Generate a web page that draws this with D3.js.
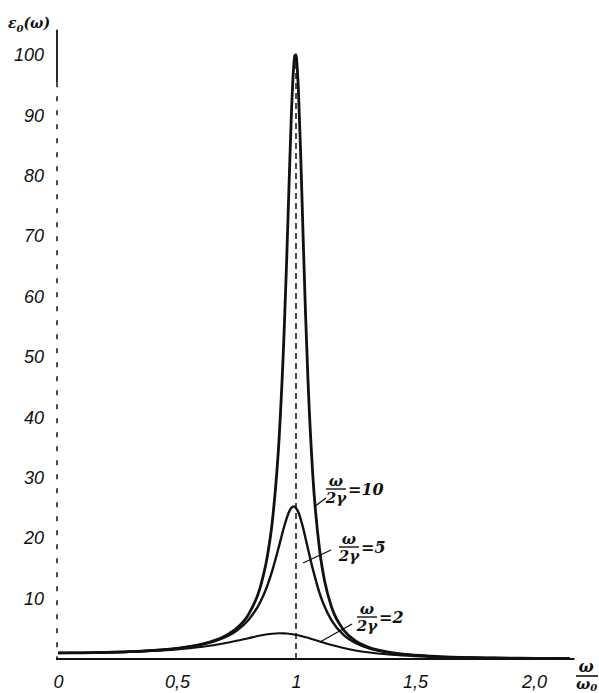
<!DOCTYPE html>
<html>
<head>
<meta charset="utf-8">
<script src="https://cdn.jsdelivr.net/npm/d3@7"></script>
<style>
  body { margin: 0; background: #fff; }
  svg { display: block; }
  .tick text { font-family: "Liberation Sans Narrow", "Liberation Sans", sans-serif;
               font-style: italic; font-size: 18px; fill: #111; }
  .note { font-family: "DejaVu Serif", serif; font-style: italic; font-weight: bold; fill: #111; }
</style>
</head>
<body>
<div id="chart"></div>
<script>
// ── Data ────────────────────────────────────────────────────
const FREQ = [0, 0.1, 0.2, 0.3, 0.4, 0.5, 0.6, 0.7, 0.75, 0.8, 0.85, 0.88, 0.9, 0.93,
  0.95, 0.96, 0.97, 0.98, 0.99, 0.995, 1.0, 1.005, 1.01, 1.02, 1.03, 1.04, 1.05, 1.07,
  1.1, 1.12, 1.15, 1.2, 1.25, 1.3, 1.4, 1.5, 1.6, 1.7, 1.8, 1.9, 2.0, 2.15];

const Q10 = [1, 1.02, 1.085, 1.206, 1.414, 1.77, 2.42, 3.77, 5.07, 7.35, 11.9, 17.1, 22.6,
  37.2, 54, 65.1, 77.5, 89.5, 98, 99.9, 100, 98.0, 94.3, 83.1, 69.8, 57.2, 46.5, 30.8,
  17.8, 12.95, 8.53, 4.81, 3.01, 2.03, 1.06, 0.63, 0.41, 0.28, 0.2, 0.146, 0.111, 0.076];

const Q5 = [1, 1.02, 1.083, 1.202, 1.404, 1.747, 2.36, 3.58, 4.68, 6.44, 9.44, 12.2, 14.6,
  18.9, 21.9, 23.2, 24.3, 25.0, 25.25, 25.2, 25, 24.7, 24.3, 23.1, 21.7, 20.0, 18.3, 15.0,
  10.8, 8.7, 6.37, 3.98, 2.64, 1.84, 1.0, 0.605, 0.394, 0.271, 0.194, 0.144, 0.109, 0.075];

const Q2 = [1, 1.02, 1.073, 1.176, 1.341, 1.6, 2.0, 2.61, 3.01, 3.45, 3.88, 4.09, 4.19,
  4.26, 4.25, 4.23, 4.19, 4.14, 4.07, 4.04, 4.0, 3.96, 3.92, 3.82, 3.72, 3.61, 3.5, 3.26,
  2.89, 2.64, 2.30, 1.81, 1.42, 1.11, 0.71, 0.47, 0.325, 0.233, 0.172, 0.13, 0.1, 0.07];

const X_TICKS = [0, 0.5, 1, 1.5, 2];
const X_LABELS = ["0", "0,5", "1", "1,5", "2,0"];
const Y_TICKS = [10, 20, 30, 40, 50, 60, 70, 80, 90, 100];

const SERIES = [
  { name: "10", values: Q10, width: 2.8 },
  { name: "5",  values: Q5,  width: 2.4 },
  { name: "2",  values: Q2,  width: 2.1 }
];

// ── Layout ──────────────────────────────────────────────────
const W = 599, H = 693;
const svg = d3.select("#chart").append("svg").attr("width", W).attr("height", H);
svg.append("rect").attr("width", W).attr("height", H).attr("fill", "#fff");

const x = d3.scaleLinear().domain([0, 2]).range([58, 534]);
const y = d3.scaleLinear().domain([0, 100]).range([659, 55]);
const ink = "#111";

// y axis (broken / dashed line as in the print)
const yAxisG = svg.append("g").attr("transform", `translate(${x(0) - 1},0)`)
  .call(d3.axisLeft(y).tickValues(Y_TICKS).tickSize(0).tickPadding(13));
yAxisG.select(".domain").remove();
svg.append("line")
  .attr("x1", x(0) - 1).attr("x2", x(0) - 1)
  .attr("y1", y(104.2)).attr("y2", y(95.5))
  .attr("stroke", ink).attr("stroke-width", 1.8);
svg.append("line")
  .attr("x1", x(0) - 1).attr("x2", x(0) - 1)
  .attr("y1", y(95.5)).attr("y2", y(0))
  .attr("stroke", ink).attr("stroke-width", 1.5)
  .attr("stroke-dasharray", "5,9");

// x axis
const xAxisG = svg.append("g").attr("transform", `translate(0,${y(0)})`)
  .call(d3.axisBottom(x).tickValues(X_TICKS).tickSize(0).tickPadding(16)
    .tickFormat((d, i) => X_LABELS[i]));
xAxisG.select(".domain").remove();
svg.append("line")
  .attr("x1", x(0) - 2).attr("x2", x(2.17))
  .attr("y1", y(0)).attr("y2", y(0))
  .attr("stroke", ink).attr("stroke-width", 2);

// dashed line at resonance
svg.append("line")
  .attr("x1", x(1)).attr("x2", x(1))
  .attr("y1", y(0)).attr("y2", y(99))
  .attr("stroke", ink).attr("stroke-width", 1.5)
  .attr("stroke-dasharray", "6,4");

// curves
const line = d3.line()
  .x((d, i) => x(FREQ[i]))
  .y(d => y(d))
  .curve(d3.curveMonotoneX);

svg.selectAll(".curve").data(SERIES).enter()
  .append("path")
  .attr("class", "curve")
  .attr("d", d => line(d.values))
  .attr("fill", "none")
  .attr("stroke", ink)
  .attr("stroke-width", d => d.width)
  .attr("stroke-linejoin", "round");

// axis titles
const yTitle = svg.append("text").attr("class", "note")
  .attr("x", 8).attr("y", 28).attr("font-size", 14);
yTitle.append("tspan").text("ε");
yTitle.append("tspan").attr("font-size", 10).attr("dy", 4).text("0");
yTitle.append("tspan").attr("dy", -4).text("(ω)");

svg.append("text").attr("class", "note").attr("font-size", 16)
  .attr("x", 586).attr("y", 672).attr("text-anchor", "middle").text("ω");
svg.append("line").attr("x1", 576).attr("x2", 598).attr("y1", 676).attr("y2", 676)
  .attr("stroke", ink).attr("stroke-width", 1.6);
const xTitle = svg.append("text").attr("class", "note").attr("font-size", 15)
  .attr("x", 576).attr("y", 689);
xTitle.append("tspan").text("ω");
xTitle.append("tspan").attr("font-size", 10).attr("dy", 2).text("0");

// curve notes ω/2γ = Q with leader lines
const NOTES = [
  { q: "10", cx: 336, bar: 489, lead: [[314, 507], [326, 498]] },
  { q: "5",  cx: 349, bar: 547, lead: [[303, 563], [331, 550]] },
  { q: "2",  cx: 367, bar: 617, lead: [[320, 642], [352, 624]] }
];
NOTES.forEach(n => {
  const g = svg.append("g");
  g.append("text").attr("class", "note").attr("font-size", 15)
    .attr("x", n.cx).attr("y", n.bar - 3).attr("text-anchor", "middle").text("ω");
  g.append("line").attr("x1", n.cx - 10).attr("x2", n.cx + 10)
    .attr("y1", n.bar).attr("y2", n.bar).attr("stroke", ink).attr("stroke-width", 1.4);
  g.append("text").attr("class", "note").attr("font-size", 15)
    .attr("x", n.cx).attr("y", n.bar + 14).attr("text-anchor", "middle").text("2γ");
  g.append("text").attr("class", "note").attr("font-size", 16)
    .attr("x", n.cx + 12).attr("y", n.bar + 6).text("=" + n.q);
  g.append("line")
    .attr("x1", n.lead[0][0]).attr("y1", n.lead[0][1])
    .attr("x2", n.lead[1][0]).attr("y2", n.lead[1][1])
    .attr("stroke", ink).attr("stroke-width", 1.3);
});
</script>
</body>
</html>
